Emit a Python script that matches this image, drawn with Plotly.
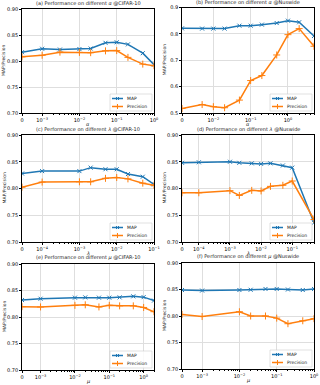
import numpy as np
import plotly.graph_objects as go
from plotly.subplots import make_subplots

# parametros e resultados de cada painel
alpha_cifar = [0, 1e-3, 3e-3, 1e-2, 2e-2, 5e-2, 0.1, 0.2, 0.5, 1]
map_alpha_cifar = [0.817, 0.8235, 0.822, 0.823, 0.824, 0.835, 0.836, 0.832, 0.815, 0.793]
prec_alpha_cifar = [0.808, 0.811, 0.817, 0.8165, 0.816, 0.8195, 0.820, 0.807, 0.794, 0.791]

alpha_nus = [0, 5e-3, 1e-2, 2e-2, 5e-2, 0.1, 0.2, 0.5, 1, 2, 5]
map_alpha_nus = [0.821, 0.820, 0.820, 0.820, 0.831, 0.831, 0.835, 0.841, 0.850, 0.844, 0.792]
prec_alpha_nus = [0.517, 0.532, 0.524, 0.520, 0.549, 0.623, 0.642, 0.720, 0.797, 0.820, 0.753]

lambda_cifar = [0, 1e-4, 1e-3, 2e-3, 5e-3, 1e-2, 2e-2, 5e-2, 0.1]
map_lambda_cifar = [0.828, 0.8325, 0.8325, 0.839, 0.836, 0.836, 0.827, 0.822, 0.8075]
prec_lambda_cifar = [0.8025, 0.812, 0.8125, 0.8125, 0.819, 0.8205, 0.818, 0.810, 0.806]

lambda_nus = [0, 1e-4, 1e-3, 2e-3, 5e-3, 1e-2, 2e-2, 5e-2, 0.1, 0.5]
map_lambda_nus = [0.848, 0.849, 0.850, 0.848, 0.847, 0.846, 0.847, 0.843, 0.839, 0.736]
prec_lambda_nus = [0.792, 0.792, 0.796, 0.787, 0.7965, 0.7955, 0.804, 0.806, 0.814, 0.742]

mu_cifar = [0, 1e-3, 1e-2, 2e-2, 5e-2, 0.1, 0.2, 0.5, 1, 2]
map_mu_cifar = [0.832, 0.8345, 0.8365, 0.837, 0.8365, 0.8365, 0.837, 0.839, 0.8375, 0.831]
prec_mu_cifar = [0.8195, 0.819, 0.822, 0.823, 0.819, 0.822, 0.821, 0.821, 0.818, 0.810]

mu_nus = [0, 1e-3, 1e-2, 2e-2, 5e-2, 0.1, 0.2, 0.5, 1]
map_mu_nus = [0.849, 0.848, 0.849, 0.8495, 0.851, 0.851, 0.850, 0.849, 0.851]
prec_mu_nus = [0.803, 0.799, 0.808, 0.800, 0.800, 0.796, 0.7855, 0.791, 0.795]

BLUE = '#1f77b4'
ORANGE = '#ff7f0e'
FONT = 'DejaVu Sans'
W, H = 320, 385


def symlog(v, linthresh, c=0.54):
    # escala "symlog" do matplotlib (linscale 0.5)
    v = np.asarray(v, dtype=float)
    out = np.zeros_like(v)
    big = v >= linthresh
    out[big] = c + np.log10(v[big] / linthresh)
    out[~big] = v[~big] / linthresh * c
    return out


def sup(e):
    return '10<sup>%s</sup>' % (('\u2212' + str(-e)) if e < 0 else str(e))


def px(x):
    return x / W


def py(y):
    return 1 - y / H


# (titulo, simbolo, x, map, precision, linthresh, expoentes dos ticks, yrange, ydtick, domx, domy)
panels = [
    ('(a) Performance on different <i>α</i> @CIFAR-10', '<i>α</i>', alpha_cifar, map_alpha_cifar, prec_alpha_cifar,
     1e-3, [-3, -2, -1, 0], [0.70, 0.90], 0.05, [22, 154], [9, 113]),
    ('(b) Performance on different <i>α</i> @Nuswide', '<i>α</i>', alpha_nus, map_alpha_nus, prec_alpha_nus,
     5e-3, [-2, -1, 0], [0.5, 0.9], 0.1, [182, 314], [7.5, 113]),
    ('(c) Performance on different <i>λ</i> @CIFAR-10', '<i>λ</i>', lambda_cifar, map_lambda_cifar, prec_lambda_cifar,
     1e-4, [-4, -3, -2, -1], [0.70, 0.90], 0.05, [22, 154], [135, 242]),
    ('(d) Performance on different <i>λ</i> @Nuswide', '<i>λ</i>', lambda_nus, map_lambda_nus, prec_lambda_nus,
     1e-4, [-4, -3, -2, -1], [0.70, 0.90], 0.05, [182, 314], [135, 242]),
    ('(e) Performance on different <i>μ</i> @CIFAR-10', '<i>μ</i>', mu_cifar, map_mu_cifar, prec_mu_cifar,
     1e-3, [-3, -2, -1, 0], [0.70, 0.90], 0.05, [22, 154], [264, 370]),
    ('(f) Performance on different <i>μ</i> @Nuswide', '<i>μ</i>', mu_nus, map_mu_nus, prec_mu_nus,
     1e-3, [-3, -2, -1, 0], [0.70, 0.90], 0.05, [182, 314], [263, 369]),
]

fig = make_subplots(rows=3, cols=2)
shapes = []

for i, (title, sym, xs, mp, pr, lt, exps, yr, ydt, dx, dy) in enumerate(panels):
    row, col = i // 2 + 1, i % 2 + 1
    n = i + 1
    pos = symlog(xs, lt)
    fig.add_trace(go.Scatter(x=pos, y=mp, mode='lines+markers', name='MAP', showlegend=False,
                             line=dict(color=BLUE, width=1.5),
                             marker=dict(symbol='x-thin', size=4, line=dict(color=BLUE, width=1))),
                  row=row, col=col)
    fig.add_trace(go.Scatter(x=pos, y=pr, mode='lines+markers', name='Precision', showlegend=False,
                             line=dict(color=ORANGE, width=1.5),
                             marker=dict(symbol='cross-thin', size=5, line=dict(color=ORANGE, width=1))),
                  row=row, col=col)

    xmax = symlog([max(xs)], lt)[0]
    tv = [0.0] + list(symlog([10.0 ** e for e in exps], lt))
    tt = ['0'] + [sup(e) for e in exps]
    minor = []
    for e in range(int(round(np.log10(lt))) - 1, 1):
        for k in range(2, 10):
            v = k * 10.0 ** e
            if lt < v <= max(xs):
                minor.append(float(symlog([v], lt)[0]))
    xa = 'xaxis' if n == 1 else 'xaxis%d' % n
    ya = 'yaxis' if n == 1 else 'yaxis%d' % n
    fig.layout[xa].update(domain=[px(dx[0]), px(dx[1])], range=[0, xmax], automargin=False,
                          tickmode='array', tickvals=tv, ticktext=tt,
                          ticks='outside', ticklen=2, tickwidth=0.6, tickcolor='black',
                          showline=True, linecolor='black', linewidth=0.8, mirror=True,
                          showgrid=True, gridcolor='#dedede', gridwidth=0.6, zeroline=False,
                          tickfont=dict(size=5, family=FONT, color='black'),
                          minor=dict(tickvals=minor, ticks='outside', ticklen=1, tickwidth=0.5,
                                     tickcolor='black', showgrid=False))
    ndig = 2 if ydt < 0.1 else 1
    fig.layout[ya].update(domain=[py(dy[1]), py(dy[0])], range=yr, automargin=False,
                          tickmode='linear', tick0=yr[0], dtick=ydt, tickformat='.%df' % ndig,
                          ticks='outside', ticklen=2, tickwidth=0.6, tickcolor='black',
                          showline=True, linecolor='black', linewidth=0.8, mirror=True,
                          showgrid=True, gridcolor='#dedede', gridwidth=0.6, zeroline=False,
                          tickfont=dict(size=5, family=FONT, color='black'))

    # titulo e rotulos dos eixos
    fig.add_annotation(text=title, x=px((dx[0] + dx[1]) / 2), y=py(dy[0] - 0.8),
                       xanchor='center', yanchor='bottom')
    fig.add_annotation(text=sym, x=px((dx[0] + dx[1]) / 2), y=py(dy[1] + 6.3),
                       xanchor='center', yanchor='top')
    fig.add_annotation(text='MAP/Precision', x=px(dx[0] - 18), y=py((dy[0] + dy[1]) / 2),
                       xanchor='center', yanchor='middle', textangle=-90, font=dict(size=4.5))

    # legenda desenhada a mao
    bl, br = dx[1] - 44, dx[1] - 2
    bt, bb = dy[1] - 19, dy[1] - 2
    shapes.append(dict(type='rect', xref='paper', yref='paper', x0=px(bl), x1=px(br), y0=py(bb), y1=py(bt),
                       line=dict(color='#cccccc', width=0.6), fillcolor='rgba(255,255,255,0.85)'))
    for j, (lab, colr, mk) in enumerate([('MAP', BLUE, 'x'), ('Precision', ORANGE, '+')]):
        yy = bt + 4.5 + j * 8
        shapes.append(dict(type='line', xref='paper', yref='paper', x0=px(bl + 2), x1=px(bl + 13),
                           y0=py(yy), y1=py(yy), line=dict(color=colr, width=1.5)))
        cx = bl + 7.5
        if mk == 'x':
            segs = [(-1.5, -1.5, 1.5, 1.5), (-1.5, 1.5, 1.5, -1.5)]
        else:
            segs = [(-2.5, 0, 2.5, 0), (0, -2.5, 0, 2.5)]
        for a, b, c, d in segs:
            shapes.append(dict(type='line', xref='paper', yref='paper', x0=px(cx + a), x1=px(cx + c),
                               y0=py(yy + b), y1=py(yy + d), line=dict(color=colr, width=1)))
        fig.add_annotation(text=lab, x=px(bl + 15), y=py(yy), xanchor='left', yanchor='middle',
                           font=dict(size=4.5))

fig.update_annotations(xref='paper', yref='paper', showarrow=False)
for a in fig.layout.annotations:
    if a.font.size is None:
        a.font = dict(size=5, family=FONT, color='#222222')
    else:
        a.font = dict(size=a.font.size, family=FONT, color='#222222')

fig.update_layout(width=W, height=H, margin=dict(l=0, r=0, t=0, b=0),
                  plot_bgcolor='white', paper_bgcolor='white', showlegend=False,
                  shapes=shapes, font=dict(family=FONT))

# tira a margem padrao do <body> para a figura ocupar a janela toda
fig.write_html('out.html', config={'displayModeBar': False},
               post_script="document.body.style.margin='0';")
